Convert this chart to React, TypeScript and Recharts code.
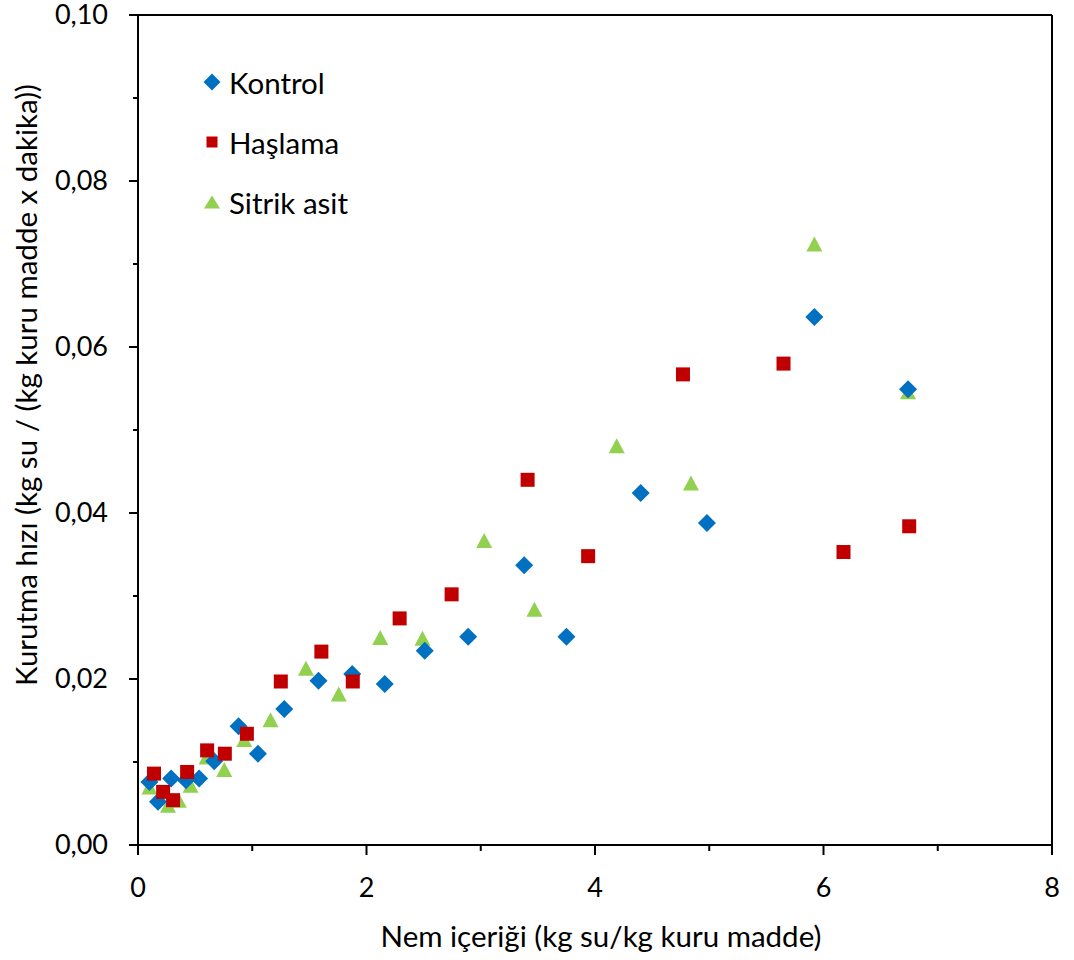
import { ScatterChart, Scatter, XAxis, YAxis, ReferenceLine, Legend } from 'recharts'

const FONT = 'Lato, "Open Sans", sans-serif'

const xTicks = [0, 1, 2, 3, 4, 5, 6, 7, 8]
const yTicks = [0, 0.01, 0.02, 0.03, 0.04, 0.05, 0.06, 0.07, 0.08, 0.09, 0.1]

const seriesNames = ['Kontrol', 'Haşlama', 'Sitrik asit']

const kontrolX = [0.1, 0.175, 0.29, 0.42, 0.535, 0.667, 0.88, 1.05, 1.28, 1.58, 1.875, 2.16, 2.51, 2.89, 3.38, 3.75, 4.4, 4.98, 5.92, 6.74]
const kontrolY = [0.0076, 0.0052, 0.008, 0.0078, 0.008, 0.0101, 0.0143, 0.011, 0.0164, 0.0198, 0.0206, 0.0194, 0.0234, 0.0251, 0.0337, 0.0251, 0.0424, 0.0388, 0.0636, 0.0549]

const haslamaX = [0.14, 0.22, 0.307, 0.43, 0.605, 0.76, 0.953, 1.25, 1.605, 1.88, 2.29, 2.745, 3.41, 3.94, 4.77, 5.65, 6.175, 6.75]
const haslamaY = [0.0086, 0.0064, 0.0054, 0.0088, 0.0114, 0.011, 0.0134, 0.0197, 0.0233, 0.0197, 0.0273, 0.0302, 0.044, 0.0348, 0.0567, 0.058, 0.0353, 0.0384]

const sitrikX = [0.1, 0.263, 0.357, 0.46, 0.6, 0.755, 0.93, 1.16, 1.47, 1.757, 2.12, 2.49, 3.03, 3.47, 4.19, 4.84, 5.92, 6.74]
const sitrikY = [0.007, 0.0048, 0.0054, 0.0072, 0.0106, 0.0091, 0.0127, 0.0151, 0.0213, 0.0182, 0.025, 0.0249, 0.0367, 0.0284, 0.0481, 0.0436, 0.0724, 0.0546]

const toPoints = (xs: number[], ys: number[]) => xs.map((x, i) => ({ x, y: ys[i] }))

const BLUE = '#0070C0'
const RED = '#C00000'
const GREEN = '#92D050'

const Diamond = ({ cx, cy, r = 9, fill = BLUE }: any) => (
  <path d={`M${cx},${cy - r}L${cx + r},${cy}L${cx},${cy + r}L${cx - r},${cy}Z`} fill={fill} />
)
const Square = ({ cx, cy, s = 14, fill = RED }: any) => (
  <rect x={cx - s / 2} y={cy - s / 2} width={s} height={s} fill={fill} />
)
const Triangle = ({ cx, cy, w = 16, h = 15, fill = GREEN }: any) => (
  <path d={`M${cx},${cy - h / 2}L${cx + w / 2},${cy + h / 2}L${cx - w / 2},${cy + h / 2}Z`} fill={fill} />
)

const XTick = ({ x, y, payload }: any) => {
  const major = payload.value % 2 === 0
  return (
    <g>
      <line x1={x} x2={x} y1={y} y2={y + (major ? 10 : 6)} stroke="#000" strokeWidth={2} />
      {major && (
        <text x={x} y={y + 52} textAnchor="middle" fontSize={27} fontFamily={FONT} fill="#000">
          {payload.value}
        </text>
      )}
    </g>
  )
}

const YTick = ({ x, y, payload }: any) => {
  const major = Math.round(payload.value * 100) % 2 === 0
  return (
    <g>
      <line x1={x - (major ? 9 : 5)} x2={x} y1={y} y2={y} stroke="#000" strokeWidth={2} />
      {major && (
        <text x={x - 30} y={y + 9} textAnchor="end" fontSize={27} fontFamily={FONT} fill="#000">
          {payload.value.toFixed(2).replace('.', ',')}
        </text>
      )}
    </g>
  )
}

const legendIcon = (name: string) => {
  if (name === 'Kontrol') return <Diamond cx={12} cy={12} r={8.5} />
  if (name === 'Haşlama') return <Square cx={12} cy={12} s={11} />
  return <Triangle cx={12} cy={12} w={16} h={13} />
}

const renderLegend = ({ payload }: any) => {
  const items = [...(payload || [])].sort(
    (a: any, b: any) => seriesNames.indexOf(a.value) - seriesNames.indexOf(b.value)
  )
  return (
    <div>
      {items.map((item: any) => (
        <div key={item.value} style={{ display: 'flex', alignItems: 'center', height: 60 }}>
          <svg width={24} height={24}>{legendIcon(item.value)}</svg>
          <span style={{ marginLeft: 5, fontSize: 29.5, fontFamily: FONT, color: '#000' }}>{item.value}</span>
        </div>
      ))}
    </div>
  )
}

export default function App() {
  return (
    <div style={{ position: 'absolute', left: 0, top: 0, background: '#fff', fontFamily: FONT }}>
      <ScatterChart width={1074} height={960} margin={{ top: 15, right: 22, bottom: 0, left: 0 }}>
        <XAxis
          type="number"
          dataKey="x"
          domain={[0, 8]}
          ticks={xTicks}
          interval={0}
          height={115}
          tickSize={0}
          tickMargin={0}
          tickLine={false}
          tick={<XTick />}
          axisLine={{ stroke: '#000', strokeWidth: 2 }}
          label={{
            content: ({ viewBox }: any) => (
              <text
                x={viewBox.x + viewBox.width / 2 + 6}
                y={947}
                textAnchor="middle"
                fontSize={29.5}
                fontFamily={FONT}
                fill="#000"
              >
                Nem içeriği (kg su/kg kuru madde)
              </text>
            ),
          }}
        />
        <YAxis
          type="number"
          dataKey="y"
          domain={[0, 0.1]}
          ticks={yTicks}
          interval={0}
          width={138}
          tickSize={0}
          tickMargin={0}
          tickLine={false}
          tick={<YTick />}
          axisLine={{ stroke: '#000', strokeWidth: 2 }}
          label={{
            content: () => (
              <text
                transform="translate(37,385) rotate(-90)"
                textAnchor="middle"
                fontSize={29.5}
                fontFamily={FONT}
                fill="#000"
              >
                Kurutma hızı (kg su / (kg kuru madde x dakika))
              </text>
            ),
          }}
        />
        <ReferenceLine y={0.1} stroke="#000" strokeWidth={2} />
        <ReferenceLine x={8} stroke="#000" strokeWidth={2} />
        <Legend
          layout="vertical"
          align="center"
          verticalAlign="middle"
          content={renderLegend}
          wrapperStyle={{ left: 200, top: 52, width: 240, height: 180 }}
        />
        <Scatter name="Sitrik asit" data={toPoints(sitrikX, sitrikY)} fill={GREEN} shape={(p: any) => <Triangle cx={p.cx} cy={p.cy} />} isAnimationActive={false} />
        <Scatter name="Kontrol" data={toPoints(kontrolX, kontrolY)} fill={BLUE} shape={(p: any) => <Diamond cx={p.cx} cy={p.cy} />} isAnimationActive={false} />
        <Scatter name="Haşlama" data={toPoints(haslamaX, haslamaY)} fill={RED} shape={(p: any) => <Square cx={p.cx} cy={p.cy} />} isAnimationActive={false} />
      </ScatterChart>
    </div>
  )
}
